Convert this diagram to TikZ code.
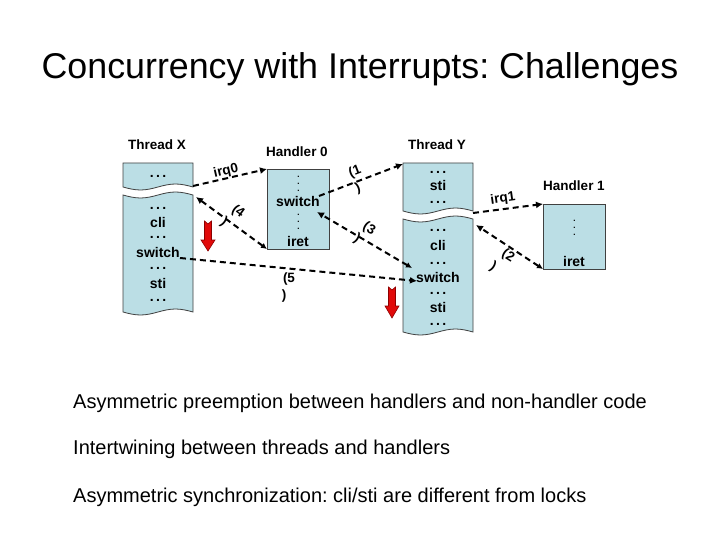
\documentclass[tikz,border=0pt]{standalone}
\usepackage{fontspec}
\setmainfont{Liberation Sans}
\usetikzlibrary{arrows.meta}
\definecolor{boxfill}{RGB}{187,222,229}
\definecolor{arrred}{RGB}{225,10,10}
\definecolor{arrdark}{RGB}{140,0,0}
\frenchspacing
\begin{document}
\begin{tikzpicture}[x=1pt,y=-1pt,
  tbox/.style={draw=black!75, line width=0.8pt, fill=boxfill},
  hdr/.style={font=\fontsize{13.5}{16}\selectfont\bfseries, inner sep=0, anchor=base},
  code/.style={font=\fontsize{14}{16}\selectfont\bfseries, inner sep=0, anchor=base},
  vd/.style={inner sep=0, font=\fontsize{12}{12}\selectfont, rotate=90, anchor=base},
  lab/.style={font=\fontsize{13.5}{16}\selectfont\bfseries, inner sep=0},
  conn/.style={dash pattern=on 6pt off 4pt, line width=2pt, -{Latex[length=7pt,width=7pt]}},
  conn2/.style={dash pattern=on 6pt off 4pt, line width=2pt, {Latex[length=6pt,width=6pt]}-{Latex[length=7pt,width=7pt]}},
  bul/.style={font=\fontsize{20}{24}\selectfont, anchor=base west, inner sep=0},
  redarr/.style={fill=arrred, draw=arrdark, line width=0.6pt}
]
\useasboundingbox (0,0) rectangle (720,540);

% title
\node[font=\fontsize{35.8}{40}\selectfont, anchor=base, inner sep=0] (title) at (360,79) {Concurrency with Interrupts: Challenges};

% headers
\node[hdr] (hX) at (157,150) {Thread X};
\node[hdr] (h0) at (297,157) {Handler 0};
\node[hdr] (hY) at (437,150) {Thread Y};
\node[hdr] (h1) at (574,191) {Handler 1};

% Thread X (torn)
\path[tbox] (123,163) -- (193,163) -- (193,187) sin (175.5,184) cos (158,187) sin (140.5,190) cos (123,187) -- cycle;
\path[tbox] (123,195) sin (140.5,198) cos (158,195) sin (175.5,192) cos (193,195) -- (193,312) sin (175.5,309) cos (158,312) sin (140.5,315) cos (123,312) -- cycle;

% Thread Y (torn)
\path[tbox] (403,163) -- (473,163) -- (473,211) sin (455.5,208) cos (438,211) sin (420.5,214) cos (403,211) -- cycle;
\path[tbox] (403,219) sin (420.5,222) cos (438,219) sin (455.5,216) cos (473,219) -- (473,332) sin (455.5,329) cos (438,332) sin (420.5,335) cos (403,332) -- cycle;

% Handlers
\draw[tbox] (267,169) rectangle (329,249);
\draw[tbox] (543,204) rectangle (605,269);

% Thread X text
\node[code] (x1) at (158,178) {.\,.\,.};
\node[code] (x2) at (158,210) {.\,.\,.};
\node[code] (x3) at (158,227) {cli};
\node[code] (x4) at (158,239) {.\,.\,.};
\node[code] (x5) at (158,257) {switch};
\node[code] (x6) at (158,269) {.\,.\,.};
\node[code] (x7) at (158,288) {sti};
\node[code] (x8) at (158,301) {.\,.\,.};

% Thread Y text
\node[code] (y1) at (438,174) {.\,.\,.};
\node[code] (y2) at (438,191) {sti};
\node[code] (y3) at (438,204) {.\,.\,.};
\node[code] (y4) at (438,232) {.\,.\,.};
\node[code] (y5) at (438,251) {cli};
\node[code] (y6) at (438,264) {.\,.\,.};
\node[code] (y7) at (438,282) {switch};
\node[code] (y8) at (438,294) {.\,.\,.};
\node[code] (y9) at (438,312) {sti};
\node[code] (y10) at (438,325) {.\,.\,.};

% Handler 0 text
\node[vd] (h0d1) at (299,184) {.\hspace{3.5pt}.\hspace{3.5pt}.};
\node[code] (h0s) at (298,207) {switch};
\node[vd] (h0d2) at (299,222) {.\hspace{3.5pt}.\hspace{3.5pt}.};
\node[code] (h0i) at (298,247) {iret};

% Handler 1 text
\node[vd] (h1d1) at (575,228) {.\hspace{3.5pt}.\hspace{3.5pt}.};
\node[code] (h1i) at (574,266) {iret};

% connector anchors
\coordinate (xTop) at (193,186);
\coordinate (xBrk) at (196,197);
\coordinate (h0TL) at (267,169);
\coordinate (h0BL) at (267,249);
\coordinate (h0SwA) at (319,196);
\coordinate (h0SwB) at (317,212);
\coordinate (yTL) at (403,164);
\coordinate (ySwA) at (412,268);
\coordinate (ySwB) at (417,281);
\coordinate (xSw) at (180,258);
\coordinate (yBrkA) at (473,213);
\coordinate (yBrkB) at (476,225);
\coordinate (h1TL) at (543,204);
\coordinate (h1BL) at (543,269);

% connectors
\draw[conn] (xTop) -- (h0TL);
\draw[conn2] (h0BL) -- (xBrk);
\draw[conn] (h0SwA) -- (yTL);
\draw[conn2] (ySwA) -- (h0SwB);
\draw[conn] (xSw) -- (ySwB);
\draw[conn] (yBrkA) -- (h1TL);
\draw[conn2] (h1BL) -- (yBrkB);

% labels
\node[lab, rotate=13] (lirq0) at (226,171) {irq0};
\node[lab, rotate=-36] (l4a) at (238,212) {(4};
\node[lab, rotate=-36] (l4b) at (224,222) {)};
\node[lab, rotate=21] (l1a) at (355,172) {(1};
\node[lab, rotate=21] (l1b) at (358,188) {)};
\node[lab, rotate=-31] (l3a) at (369,229) {(3};
\node[lab, rotate=-31] (l3b) at (357,239) {)};
\node[lab] (l5a) at (289,279) {(5};
\node[lab] (l5b) at (284,296) {)};
\node[lab, rotate=8] (lirq1) at (503,199) {irq1};
\node[lab, rotate=-32] (l2a) at (508,256) {(2};
\node[lab, rotate=-32] (l2b) at (493,267) {)};

% red arrows
\path[redarr] (204.5,221) -- (208,224) -- (211.5,221) -- (211.5,240) -- (215,240) -- (208,251) -- (201,240) -- (204.5,240) -- cycle;
\path[redarr] (388.5,287) -- (392,290) -- (395.5,287) -- (395.5,306) -- (399,306) -- (392,318) -- (385,306) -- (388.5,306) -- cycle;

% bullets
\node[bul] (b1) at (73,408) {Asymmetric preemption between handlers and non-handler code};
\node[bul] (b2) at (73,454) {Intertwining between threads and handlers};
\node[bul] (b3) at (73,502) {Asymmetric synchronization: cli/sti are different from locks};
\end{tikzpicture}
\end{document}
